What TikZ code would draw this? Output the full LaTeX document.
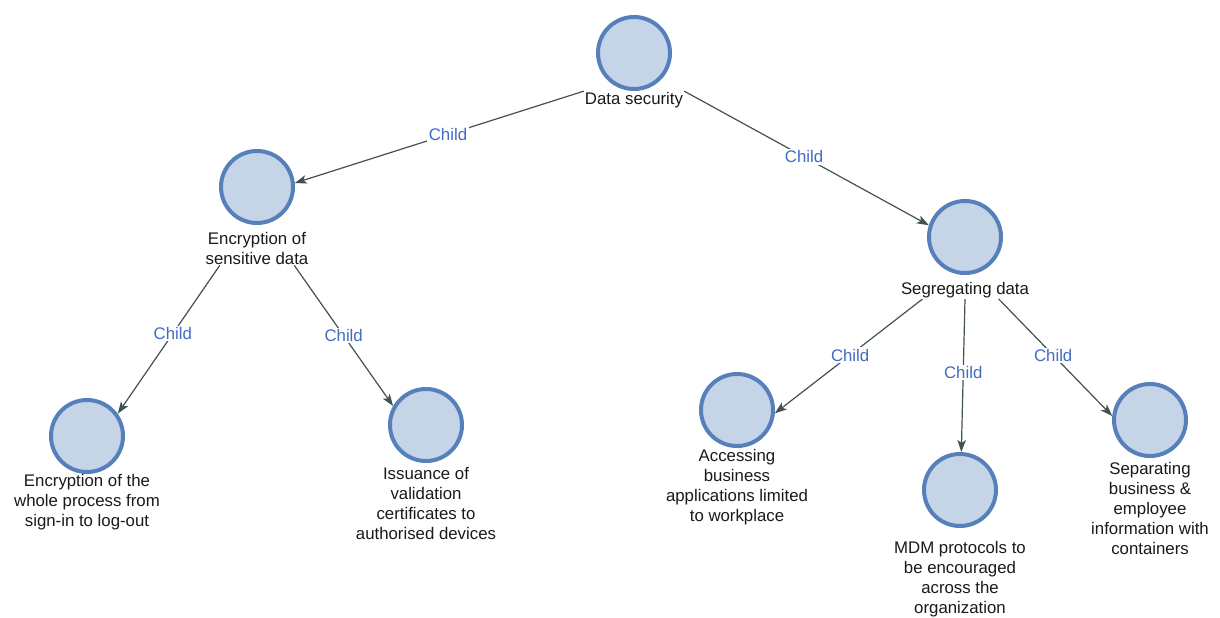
\documentclass[tikz,border=0pt]{standalone}
\usepackage{fontspec}
\setmainfont{Liberation Sans}
\usetikzlibrary{arrows.meta}
\definecolor{ringblue}{HTML}{5580BA}
\definecolor{discfill}{HTML}{C6D4E8}
\definecolor{edgegray}{HTML}{425252}
\definecolor{childblue}{HTML}{416BC4}
\definecolor{captext}{HTML}{1A1A1A}

\begin{document}
\begin{tikzpicture}[x=1pt,y=-1pt,
  disc/.style={circle, draw=ringblue, line width=4pt, fill=discfill,
               minimum size=72pt, inner sep=0pt},
  caption/.style={align=center, font=\fontsize{16.8}{20}\selectfont,
                  text=captext, inner sep=1pt},
  edge/.style={draw=edgegray, line width=1.2pt,
               -{Stealth[length=12pt,width=8.5pt,inset=3pt]}},
  childlab/.style={font=\fontsize{16.8}{20}\selectfont, text=childblue,
                   fill=white, inner sep=1.5pt}]

% canvas
\useasboundingbox[fill=white] (0,0) rectangle (1220,618);

% discs
\node[disc] (ds)  at (634,53)  {};
\node[disc] (es)  at (257,187) {};
\node[disc] (sd)  at (965,237) {};
\node[disc] (ew)  at (87,436)  {};
\node[disc] (is)  at (426,425) {};
\node[disc] (ac)  at (737,410) {};
\node[disc] (mdm) at (960,490) {};
\node[disc] (sp)  at (1150,420) {};

% captions
\node[caption] (dsl)  at (634,100) {Data security};
\node[caption] (esl)  at (257,248) {Encryption of\\sensitive data};
\node[caption] (sdl)  at (965,290) {Segregating data};
\node[caption] (ewl)  at (87,502)  {Encryption of the\\whole process from\\sign-in to log-out};
\node[caption] (isl)  at (426,503) {Issuance of\\validation\\certificates to\\authorised devices};
\node[caption] (acl)  at (737,487) {Accessing\\business\\applications limited\\to workplace};
\node[caption] (mdml) at (960,579) {MDM protocols to\\be encouraged\\across the\\organization};
\node[caption] (spl)  at (1150,508) {Separating\\business \&\\employee\\information with\\containers};

% parent-child connectors
\draw[edge] (dsl.170) -- node[childlab, pos=0.47] {Child} (es.6);
\draw[edge] (dsl.10)  -- node[childlab, pos=0.49] {Child} (sd.162);
\draw[edge] (esl.205) -- node[childlab, pos=0.46] {Child} (ew.36);
\draw[edge] (esl.335) -- node[childlab, pos=0.50] {Child} (is.150);
\draw[edge] (sdl.192) -- node[childlab, pos=0.49] {Child} (ac.-5);
\draw[edge] (sdl.270) -- node[childlab, pos=0.48] {Child} (mdm.88);
\draw[edge] (sdl.345) -- node[childlab, pos=0.48] {Child} (sp.174);
\end{tikzpicture}
\end{document}
